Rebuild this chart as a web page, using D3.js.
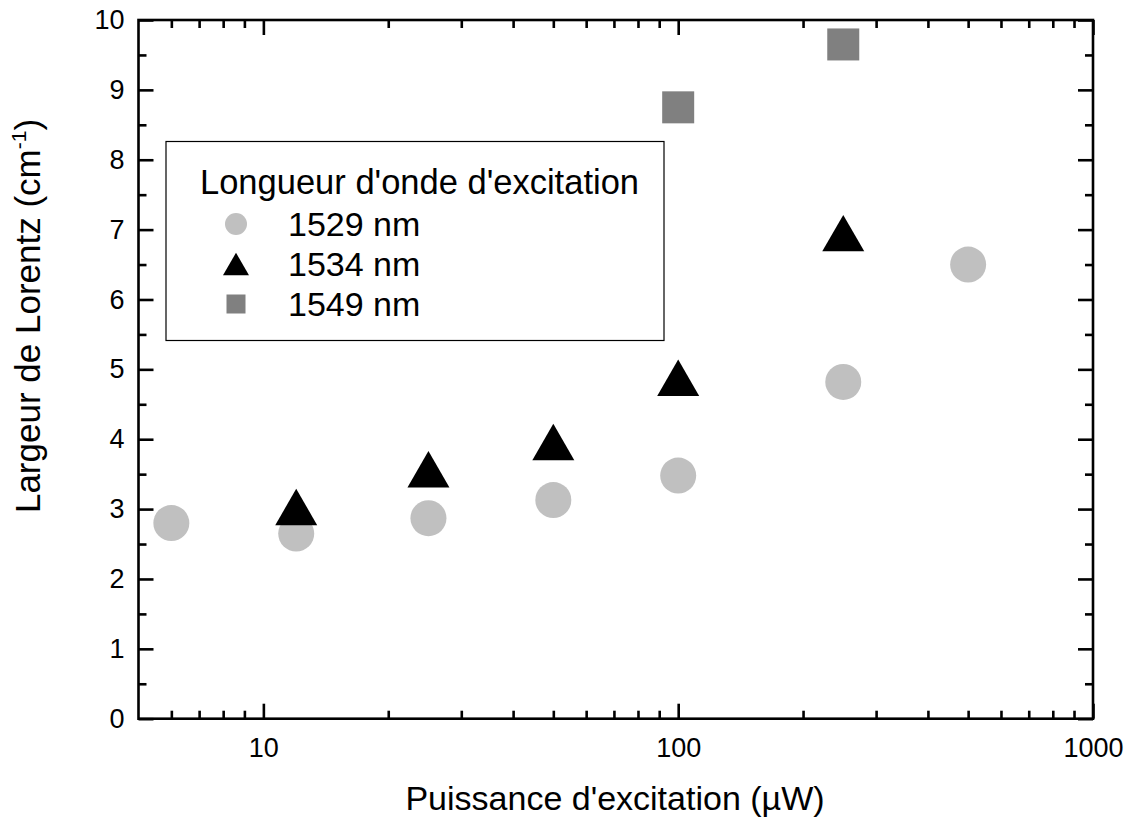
<!DOCTYPE html>
<html>
<head>
<meta charset="utf-8">
<script src="https://cdn.jsdelivr.net/npm/d3@7"></script>
<style>
  html, body { margin: 0; padding: 0; background: #fff; }
  svg { display: block; font-family: "Liberation Sans", Arial, sans-serif; }
</style>
</head>
<body>
<svg id="chart" width="1131" height="819"></svg>
<script>
// ---- data ----
const xMajorTicks = [10, 100, 1000];
const xMinorTicks = [6, 7, 8, 9, 20, 30, 40, 50, 60, 70, 80, 90, 200, 300, 400, 500, 600, 700, 800, 900];
const yMajorTicks = [0, 1, 2, 3, 4, 5, 6, 7, 8, 9, 10];
const yMinorTicks = [0.5, 1.5, 2.5, 3.5, 4.5, 5.5, 6.5, 7.5, 8.5, 9.5];

const seriesNames = ["1529 nm", "1534 nm", "1549 nm"];
const power1529 = [6, 12, 25, 50, 100, 250, 500];
const width1529 = [2.80, 2.65, 2.87, 3.13, 3.48, 4.82, 6.50];
const power1534 = [12, 25, 50, 100, 250];
const width1534 = [3.03, 3.57, 3.96, 4.88, 6.95];
const power1549 = [100, 250];
const width1549 = [8.75, 9.65];

const legendTitle = "Longueur d'onde d'excitation";
const xTitle = "Puissance d'excitation (µW)";

// ---- layout ----
const svg = d3.select("#chart");
const L = 138.5, R = 1093, T = 20, B = 718.7;
const x = d3.scaleLog().domain([5, 1000]).range([L, R]);
const y = d3.scaleLinear().domain([0, 10]).range([B, T]);
const fmt = d => String(d);

const tickW = 2.6;
function styleAxis(g) {
  g.select(".domain").remove();
  g.selectAll(".tick line").attr("stroke", "#000").attr("stroke-width", tickW);
  g.selectAll("text").attr("fill", "#000").attr("font-size", 27)
    .attr("font-family", "'Liberation Sans', Arial, sans-serif");
}

// bottom
svg.append("g").attr("transform", `translate(0,${B})`)
  .call(d3.axisBottom(x).tickValues(xMajorTicks).tickFormat(fmt).tickSize(-15).tickPadding(19))
  .call(styleAxis);
svg.append("g").attr("transform", `translate(0,${B})`)
  .call(d3.axisBottom(x).tickValues(xMinorTicks).tickFormat("").tickSize(-8))
  .call(styleAxis);
// top
svg.append("g").attr("transform", `translate(0,${T})`)
  .call(d3.axisTop(x).tickValues(xMajorTicks).tickFormat("").tickSize(-15))
  .call(styleAxis);
svg.append("g").attr("transform", `translate(0,${T})`)
  .call(d3.axisTop(x).tickValues(xMinorTicks).tickFormat("").tickSize(-8))
  .call(styleAxis);
// left
svg.append("g").attr("transform", `translate(${L},0)`)
  .call(d3.axisLeft(y).tickValues(yMajorTicks).tickFormat(fmt).tickSize(-15).tickPadding(14))
  .call(styleAxis);
svg.append("g").attr("transform", `translate(${L},0)`)
  .call(d3.axisLeft(y).tickValues(yMinorTicks).tickFormat("").tickSize(-8))
  .call(styleAxis);
// right
svg.append("g").attr("transform", `translate(${R},0)`)
  .call(d3.axisRight(y).tickValues(yMajorTicks).tickFormat("").tickSize(-15))
  .call(styleAxis);
svg.append("g").attr("transform", `translate(${R},0)`)
  .call(d3.axisRight(y).tickValues(yMinorTicks).tickFormat("").tickSize(-8))
  .call(styleAxis);

// frame
svg.append("rect").attr("x", L).attr("y", T).attr("width", R - L).attr("height", B - T)
  .attr("fill", "none").attr("stroke", "#000").attr("stroke-width", 2.6);

// ---- markers ----
function triPath(w) {
  const h = w * Math.sqrt(3) / 2;
  return `M0,${-h / 2}L${w / 2},${h / 2}L${-w / 2},${h / 2}Z`;
}
const plot = svg.append("g");
plot.selectAll("circle.s1529").data(power1529.map((p, i) => [p, width1529[i]]))
  .join("circle").attr("class", "s1529")
  .attr("cx", d => x(d[0])).attr("cy", d => y(d[1])).attr("r", 18)
  .attr("fill", "#c0c0c0");
plot.selectAll("path.s1534").data(power1534.map((p, i) => [p, width1534[i]]))
  .join("path").attr("class", "s1534")
  .attr("d", triPath(42))
  .attr("transform", d => `translate(${x(d[0])},${y(d[1])})`)
  .attr("fill", "#000");
plot.selectAll("rect.s1549").data(power1549.map((p, i) => [p, width1549[i]]))
  .join("rect").attr("class", "s1549")
  .attr("x", d => x(d[0]) - 16).attr("y", d => y(d[1]) - 16)
  .attr("width", 32).attr("height", 32)
  .attr("fill", "#808080");

// ---- legend ----
const lg = svg.append("g");
lg.append("rect").attr("x", 166).attr("y", 141.5).attr("width", 498).attr("height", 199)
  .attr("fill", "#fff").attr("stroke", "#000").attr("stroke-width", 1.2);
lg.append("text").attr("x", 200).attr("y", 194).attr("font-size", 34.5).attr("fill", "#000")
  .text(legendTitle);
const rowY = [224, 264, 304];
lg.append("circle").attr("cx", 236).attr("cy", rowY[0]).attr("r", 11).attr("fill", "#c0c0c0");
lg.append("path").attr("d", triPath(26)).attr("transform", `translate(236,${rowY[1]})`).attr("fill", "#000");
lg.append("rect").attr("x", 236 - 9.5).attr("y", rowY[2] - 9.5).attr("width", 19).attr("height", 19).attr("fill", "#808080");
seriesNames.forEach((n, i) => {
  lg.append("text").attr("x", 288).attr("y", rowY[i]).attr("dy", "0.36em")
    .attr("font-size", 34).attr("fill", "#000").text(n);
});

// ---- axis titles ----
svg.append("text").attr("x", 615).attr("y", 810).attr("text-anchor", "middle")
  .attr("font-size", 34).attr("fill", "#000").text(xTitle);
const yt = svg.append("text").attr("transform", `translate(40,316) rotate(-90)`)
  .attr("text-anchor", "middle").attr("font-size", 35).attr("fill", "#000");
yt.append("tspan").text("Largeur de Lorentz (cm");
yt.append("tspan").attr("font-size", 21).attr("dy", -14).text("-1");
yt.append("tspan").attr("dy", 14).text(")");
</script>
</body>
</html>
